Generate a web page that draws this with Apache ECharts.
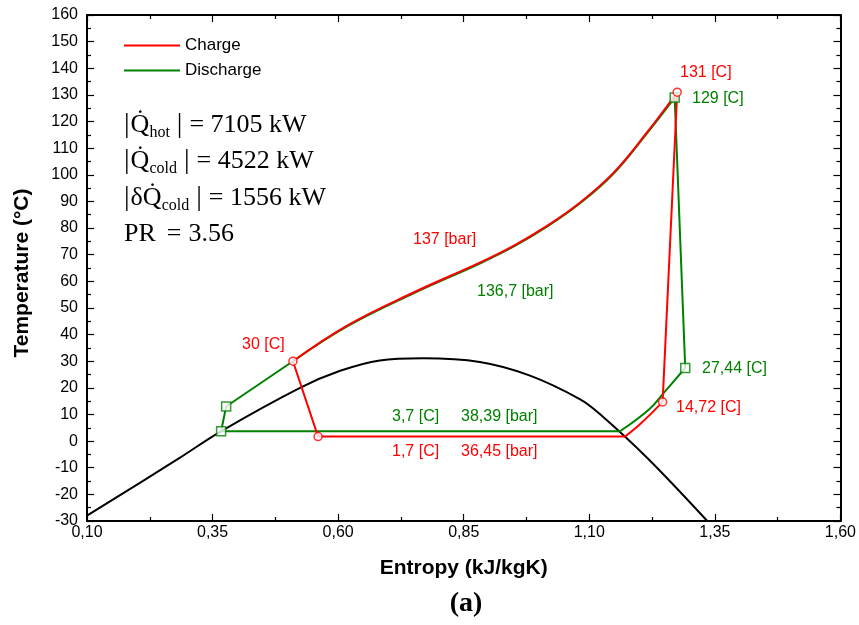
<!DOCTYPE html>
<html><head><meta charset="utf-8">
<script src="https://cdn.jsdelivr.net/npm/echarts@6/dist/echarts.min.js"></script>
<style>html,body{margin:0;padding:0;background:#fff}#c{width:859px;height:625px}</style>
</head><body><div id="c"></div>
<script>
// ---- data (entropy kJ/kgK, temperature °C) ----
const domeS = [0.100, 0.282, 0.365, 0.524, 0.604, 0.683, 0.769, 0.882, 0.982, 1.081, 1.121, 1.217, 1.334];
const domeT = [-28.0, -6.6, 3.5, 20.0, 26.4, 30.3, 31.1, 29.7, 24.6, 15.8, 10.2, -6.6, -29.8];

// Charge cycle
const chargeHotS = [1.275, 1.214, 1.148, 1.081, 1.015, 0.949, 0.882, 0.750, 0.617, 0.510];
const chargeHotT = [131.0, 115.7, 100.7, 89.5, 80.7, 73.3, 67.0, 55.8, 43.3, 30.0];
const chargeExpS = [0.510, 0.560, 1.171];
const chargeExpT = [30.0, 1.7, 1.7];
const chargeSupS = [1.171, 1.202, 1.246];
const chargeSupT = [1.7, 6.5, 14.72];
const chargeCompS = [1.246, 1.275];
const chargeCompT = [14.72, 131.0];
const chargePtS = [0.510, 0.560, 1.246, 1.275];
const chargePtT = [30.0, 1.7, 14.72, 131.0];

// Discharge cycle
const dischHotS = [1.270, 1.214, 1.148, 1.081, 1.015, 0.949, 0.882, 0.750, 0.617, 0.510];
const dischHotT = [129.0, 115.4, 100.4, 89.2, 80.4, 73.0, 66.7, 55.5, 43.0, 30.0];
const dischTurbS = [1.270, 1.291];
const dischTurbT = [129.0, 27.44];
const dischCoolS = [1.291, 1.250, 1.220, 1.161];
const dischCoolT = [27.44, 18.5, 12.1, 3.7];
const dischCondS = [1.161, 0.367, 0.377, 0.510];
const dischCondT = [3.7, 3.7, 13.0, 30.0];
const dischPtS = [1.270, 1.291, 0.367, 0.377];
const dischPtT = [129.0, 27.44, 3.7, 13.0];

const xTicks = {min: 0.10, max: 1.60, step: 0.25};
const yTicks = {min: -30, max: 160, step: 10};

const RED = '#ff0000', GREEN = '#008000';
const pair = (s, t) => s.map((v, i) => [v, t[i]]);

function lineSeries(name, s, t, color, smooth, z) {
  const o = {type: 'line', data: pair(s, t), smooth: smooth, showSymbol: false, symbol: 'none',
    lineStyle: {color, width: 2}, itemStyle: {color}, z: z, silent: true, animation: false};
  if (name) o.name = name;
  return o;
}

const series = [
  lineSeries(null, domeS, domeT, '#000', 0.35, 2),
  lineSeries('Discharge', dischHotS, dischHotT, GREEN, 0.4, 3),
  lineSeries('Discharge', dischTurbS, dischTurbT, GREEN, false, 3),
  lineSeries('Discharge', dischCoolS, dischCoolT, GREEN, 0.4, 3),
  lineSeries('Discharge', dischCondS, dischCondT, GREEN, false, 3),
  lineSeries('Charge', chargeHotS, chargeHotT, RED, 0.4, 4),
  lineSeries('Charge', chargeExpS, chargeExpT, RED, false, 4),
  lineSeries('Charge', chargeSupS, chargeSupT, RED, 0.4, 4),
  lineSeries('Charge', chargeCompS, chargeCompT, RED, false, 4),
  {type: 'scatter', data: pair(dischPtS, dischPtT), symbol: 'rect', symbolSize: 9, z: 5, silent: true,
    itemStyle: {color: '#fff', borderColor: GREEN, borderWidth: 1.5}, animation: false},
  {type: 'scatter', data: pair(chargePtS, chargePtT), symbol: 'circle', symbolSize: 8, z: 6, silent: true,
    itemStyle: {color: '#fff', borderColor: RED, borderWidth: 1.5}, animation: false}
];

const SANS = 'Liberation Sans, Arial, sans-serif';
const SERIF = 'Liberation Serif, Times New Roman, serif';

function axisCommon(extra) {
  return Object.assign({
    type: 'value',
    axisLine: {show: true, onZero: false, lineStyle: {color: '#000', width: 2}},
    axisTick: {show: true, inside: true, length: 7, lineStyle: {color: '#000', width: 1.2}},
    minorTick: {show: true, splitNumber: 2, length: 4, lineStyle: {color: '#000', width: 1.2}},
    splitLine: {show: false}
  }, extra);
}

const labels = [
  ['131 [C]', 680, 73, RED], ['129 [C]', 692, 99, GREEN],
  ['27,44 [C]', 702, 369, GREEN], ['14,72 [C]', 676, 408, RED],
  ['30 [C]', 242, 345, RED],
  ['3,7 [C]', 392, 417, GREEN], ['38,39 [bar]', 461, 417, GREEN],
  ['1,7 [C]', 392, 452, RED], ['36,45 [bar]', 461, 452, RED],
  ['137 [bar]', 413, 240, RED], ['136,7 [bar]', 477, 292, GREEN]
];

const graphics = labels.map(([t, x, y, c]) => ({type: 'text', x, y, z: 10, silent: true,
  style: {text: t, fill: c, font: '16px ' + SANS, textVerticalAlign: 'middle'}}));

// equation block: pieces laid out left to right using measured widths
const mctx = document.createElement('canvas').getContext('2d');
function widthOf(t, size) { mctx.font = size + 'px ' + SERIF; return mctx.measureText(t).width; }
function eqLine(y, pieces) {
  let x = 124;
  pieces.forEach(([t, size, dy, gap]) => {
    x += gap;
    graphics.push({type: 'text', x, y: y + dy, z: 10, silent: true,
      style: {text: t, fill: '#000', font: size + 'px ' + SERIF, textVerticalAlign: 'middle'}});
    x += widthOf(t, size);
  });
}
eqLine(125, [['|', 28, 0, 0], ['Q\u0307', 26, 0, 1], ['hot', 16, 8, 0], ['|', 28, 0, 7], ['= 7105 kW', 26, 0, 7]]);
eqLine(161, [['|', 28, 0, 0], ['Q\u0307', 26, 0, 1], ['cold', 16, 8, 0], ['|', 28, 0, 7], ['= 4522 kW', 26, 0, 7]]);
eqLine(198, [['|', 28, 0, 0], ['\u03b4', 26, 0, 1], ['Q\u0307', 26, 0, 0], ['cold', 16, 8, 0], ['|', 28, 0, 7], ['= 1556 kW', 26, 0, 7]]);
eqLine(234, [['PR', 26, 0, 0], ['=', 26, 0, 11], ['3.56', 26, 0, 7]]);

graphics.push({type: 'text', x: 466, y: 604, z: 10, silent: true,
  style: {text: '(a)', fill: '#000', font: 'bold 28px ' + SERIF, textAlign: 'center', textVerticalAlign: 'middle'}});

const option = {
  animation: false,
  backgroundColor: '#fff',
  grid: {left: 87, right: 18, top: 15, bottom: 104, containLabel: false},
  legend: {
    data: ['Charge', 'Discharge'], orient: 'vertical', left: 124, top: 37, padding: 0,
    icon: 'rect', itemWidth: 56, itemHeight: 2, itemGap: 8,
    textStyle: {fontFamily: SANS, fontSize: 17, color: '#000', lineHeight: 17}
  },
  xAxis: [
    axisCommon({position: 'bottom', min: xTicks.min, max: xTicks.max, interval: xTicks.step,
      axisLabel: {fontFamily: SANS, fontSize: 16, color: '#000', margin: 4,
        formatter: v => v.toFixed(2).replace('.', ',')},
      name: 'Entropy (kJ/kgK)', nameLocation: 'middle', nameGap: 37,
      nameTextStyle: {fontFamily: SANS, fontSize: 21, fontWeight: 'bold', color: '#000'}}),
    axisCommon({position: 'top', min: xTicks.min, max: xTicks.max, interval: xTicks.step,
      axisLabel: {show: false}})
  ],
  yAxis: [
    axisCommon({position: 'left', min: yTicks.min, max: yTicks.max, interval: yTicks.step,
      axisLabel: {fontFamily: SANS, fontSize: 16, color: '#000', margin: 9},
      name: 'Temperature (°C)', nameLocation: 'middle', nameGap: 54,
      nameTextStyle: {fontFamily: SANS, fontSize: 21, fontWeight: 'bold', color: '#000', padding: [0, 10, 0, 0]}}),
    axisCommon({position: 'right', min: yTicks.min, max: yTicks.max, interval: yTicks.step,
      axisLabel: {show: false}})
  ],
  series: series,
  graphic: graphics
};

const chart = echarts.init(document.getElementById('c'));
chart.setOption(option);
</script>
</body></html>
